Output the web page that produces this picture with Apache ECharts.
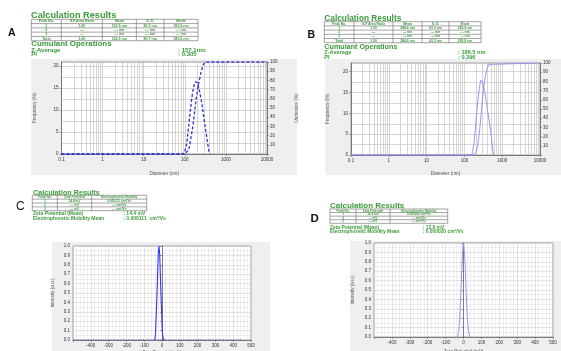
<!DOCTYPE html>
<html><head><meta charset="utf-8">
<script src="https://cdn.jsdelivr.net/npm/echarts@6/dist/echarts.min.js"></script>
<style>html,body{margin:0;padding:0;background:#fff;overflow:hidden}#c{width:561px;height:351px}</style>
</head><body><div id="c"></div>
<script>
// ---------- data ----------
const sizeA_diam = [0.1, 93, 100, 112, 123, 135, 148, 162, 178, 189, 204, 229, 260, 295, 331, 363, 398];
const sizeA_freq = [0, 0, 0.5, 2.5, 6, 9.5, 12.7, 15, 16.4, 16.7, 16.2, 14.2, 11.5, 7.8, 4.7, 2.2, 0];
const sizeA_cumDiam = [0.1, 102, 126, 157, 189, 214, 251, 282, 316, 10000];
const sizeA_cum = [0, 0, 5, 30, 60, 75, 90, 97, 100, 100];

const sizeB_diam = [0.1, 158, 178, 200, 224, 251, 275, 302, 351, 398, 478, 537, 589];
const sizeB_freq = [0, 0, 2.5, 7.5, 12.5, 16.5, 18, 17.5, 14.8, 11.5, 6.8, 3, 0];
const sizeB_cumDiam = [0.1, 178, 200, 224, 251, 282, 316, 355, 398, 447, 501, 10000];
const sizeB_cum = [0, 0, 3, 10, 25, 48, 70, 85, 94, 98.5, 100, 100];

const zetaC_mv = [-40, -36, -28, -21, -17, -13, -6, 2, 6, 12];
const zetaC_int = [0, 0.08, 0.5, 0.92, 1.0, 0.92, 0.5, 0.08, 0.02, 0];
const zetaC_baseMv = [-500, 450];
const zetaC_baseInt = [0, 0];

const zetaD_mv = [-35, -28, -21, -14, -7, 0, 7, 14, 21, 28, 35];
const zetaD_int = [0, 0.05, 0.2, 0.5, 0.82, 1.0, 0.85, 0.52, 0.22, 0.06, 0];

const logGridDiameters = [0.2,0.3,0.4,0.5,0.6,0.7,0.8,0.9,2,3,4,5,6,7,8,9,20,30,40,50,60,70,80,90,
  200,300,400,500,600,700,800,900,2000,3000,4000,5000,6000,7000,8000,9000];

const tableSizeHeader = ['Peak No.', 'S.P.Area Ratio', 'Mean', 'S. D.', 'Mode'];
const tableARows = [['1','1.00','192.9 nm','80.7 nm','181.6 nm'],['2','---','--- nm','--- nm','--- nm'],['3','---','--- nm','--- nm','--- nm'],['Total','1.00','192.9 nm','80.7 nm','181.6 nm']];
const tableBRows = [['1','1.00','284.6 nm','63.2 nm','265.9 nm'],['2','---','--- nm','--- nm','--- nm'],['3','---','--- nm','--- nm','--- nm'],['Total','1.00','284.6 nm','63.2 nm','265.9 nm']];
const tableZetaHeader = ['Peak No.', 'Zeta Potential', 'Electrophoretic Mobility'];
const tableCRows = [['1','14.4 mV','0.000111 cm²/Vs'],['2','--- mV','--- cm²/Vs'],['3','--- mV','--- cm²/Vs']];
const tableDRows = [['1','12.6 mV','0.000020 cm²/Vs'],['2','--- mV','--- cm²/Vs'],['3','--- mV','--- cm²/Vs']];
const zAvgA = ': 157.1nm', piA = ': 0.305';
const zAvgB = ': 186.5 nm', piB = ': 0.396';
const zetaMeanC = ': 14.4 mV', mobC = ': 0.000111  cm²/Vs';
const zetaMeanD = ': 12.6 mV', mobD = ': 0.000020 cm²/Vs';

// ---------- helpers ----------
const GREEN = '#3b9a3b';
const FONT = 'Liberation Sans, Arial, sans-serif';
const zip = (a, b) => a.map((v, i) => [v, b[i]]);

function txt(x, y, s, size, opt) {
  opt = opt || {};
  return {type:'text', x, y, z:10, silent:true, style:{text:s, fontSize:size, fontFamily:FONT,
    fontWeight: opt.weight || 'bold', fill: opt.fill || GREEN, align: opt.align || 'left', verticalAlign:'middle'}};
}
function table(cols, y0, y1, header, rows, size) {
  const els = [];
  const n = rows.length + 1, rh = (y1 - y0) / n;
  els.push({type:'rect', z:9, silent:true, shape:{x:cols[0], y:y0, width:cols[cols.length-1]-cols[0], height:y1-y0},
    style:{fill:'#fff', stroke:'#666', lineWidth:0.6}});
  for (let i = 1; i < cols.length - 1; i++)
    els.push({type:'line', z:9, silent:true, shape:{x1:cols[i], y1:y0, x2:cols[i], y2:y1}, style:{stroke:'#666', lineWidth:0.6}});
  for (let r = 1; r < n; r++)
    els.push({type:'line', z:9, silent:true, shape:{x1:cols[0], y1:y0+r*rh, x2:cols[cols.length-1], y2:y0+r*rh}, style:{stroke:'#666', lineWidth:0.6}});
  const all = [header].concat(rows);
  all.forEach((row, r) => row.forEach((c, j) => {
    els.push(txt((cols[j]+cols[j+1])/2, y0 + (r+0.5)*rh, c, size, {align:'center'}));
  }));
  return els;
}
function bg(x, y, w, h) {
  return {type:'rect', z:-10, silent:true, shape:{x, y, width:w, height:h}, style:{fill:'#efefef'}};
}
const axisLbl = {fontSize:4.5, color:'#333', fontFamily:FONT, margin:3};
const nameStyle = {fontSize:4.6, color:'#555', fontFamily:FONT};
function logX(gi, gap) {
  return {type:'log', gridIndex:gi, min:0.1, max:10000, logBase:10,
    axisLine:{show:true, onZero:false, lineStyle:{color:'#666', width:0.8}},
    axisTick:{show:true, length:2, lineStyle:{color:'#666', width:0.6}},
    axisLabel:Object.assign({formatter: v => String(+(+v).toPrecision(3))}, axisLbl),
    splitLine:{show:true, lineStyle:{color:'#c4c4c4', width:0.7}},
    name:'Diameter (nm)', nameLocation:'middle', nameGap:gap, nameTextStyle:nameStyle};
}
function freqY(gi, max, gap) {
  return {type:'value', gridIndex:gi, min:0, max:max, interval:5, position:'left',
    axisLine:{show:true, lineStyle:{color:'#666', width:0.8}},
    axisTick:{show:true, length:2, lineStyle:{color:'#666', width:0.6}},
    axisLabel:Object.assign({formatter: v => (v % 5 === 0 ? String(v) : ''), showMaxLabel:false}, axisLbl),
    splitLine:{show:true, lineStyle:{color:'#c4c4c4', width:0.7}},
    minorTick:{show:false, splitNumber:2},
    minorSplitLine:{show:true, lineStyle:{color:'#c4c4c4', width:0.7}},
    name:'Frequency (%)', nameLocation:'middle', nameGap:gap, nameRotate:90, nameTextStyle:nameStyle};
}
function underY(gi, name, gap) {
  return {type:'value', gridIndex:gi, min:0, max:100, interval:10, position:'right',
    axisLine:{show:true, lineStyle:{color:'#666', width:0.8}},
    axisTick:{show:true, length:2, lineStyle:{color:'#666', width:0.6}},
    axisLabel:Object.assign({formatter: v => (v === 0 ? '' : String(v))}, axisLbl),
    splitLine:{show:false},
    name:name, nameLocation:'middle', nameGap:gap, nameRotate:90, nameTextStyle:nameStyle};
}
function zetaX(gi, gap) {
  return {type:'value', gridIndex:gi, min:-500, max:500, interval:100,
    axisLine:{show:true, onZero:false, lineStyle:{color:'#666', width:0.8}},
    axisTick:{show:true, length:2, lineStyle:{color:'#666', width:0.6}},
    axisLabel:Object.assign({formatter: v => (v === -500 ? '' : String(v))}, axisLbl),
    splitLine:{show:true, lineStyle:{color:'#cfcfcf', width:0.6}},
    minorTick:{show:false, splitNumber:5},
    minorSplitLine:{show:true, lineStyle:{color:'#dedede', width:0.5}},
    name:'Zeta Potential (mV)', nameLocation:'middle', nameGap:gap, nameTextStyle:nameStyle};
}
function zetaY(gi, gap) {
  return {type:'value', gridIndex:gi, min:0, max:1, interval:0.1,
    axisLine:{show:true, lineStyle:{color:'#666', width:0.8}},
    axisTick:{show:true, length:2, lineStyle:{color:'#666', width:0.6}},
    axisLabel:Object.assign({formatter: v => (+v).toFixed(1)}, axisLbl),
    splitLine:{show:true, lineStyle:{color:'#cfcfcf', width:0.6}},
    minorTick:{show:false, splitNumber:2},
    minorSplitLine:{show:true, lineStyle:{color:'#dedede', width:0.5}},
    name:'Intensity (a.u.)', nameLocation:'middle', nameGap:gap, nameRotate:90, nameTextStyle:nameStyle};
}
const gridMark = {silent:true, symbol:'none', animation:false, label:{show:false},
  lineStyle:{color:'#c4c4c4', width:0.7, type:'solid'}, data: logGridDiameters.map(d => ({xAxis:d}))};

const gridStyle = {show:true, backgroundColor:'#fff', borderColor:'#888', borderWidth:0.8, containLabel:false, outerBoundsMode:'none'};

const graphics = [
  bg(31, 59, 266, 116), bg(325, 59, 236, 116), bg(52, 242, 218, 109), bg(350, 241, 211, 110),
  txt(8, 33, 'A', 10.5, {fill:'#111'}),
  txt(31, 15, 'Calculation Results', 9.2),
  ...table([31.3,61.3,102.3,136.3,164,198], 19.3, 40.7, tableSizeHeader, tableARows, 3.6),
  txt(31.3, 43.7, 'Cumulant Operations', 7.9),
  txt(31.3, 50.5, 'Z-Average', 6), txt(178, 50.5, zAvgA, 6),
  txt(31.3, 54.8, 'PI', 6), txt(178, 54.8, piA, 6),

  txt(307.5, 35.3, 'B', 10.5, {fill:'#111'}),
  txt(324.3, 18.6, 'Calculation Results', 8.3),
  ...table([324.3,354,393,422,449,481], 21.7, 42.7, tableSizeHeader, tableBRows, 3.4),
  txt(324.3, 46.8, 'Cumulant Operations', 7.2),
  txt(324.3, 52.6, 'Z-Average', 5.6), txt(458, 52.6, zAvgB, 5.6),
  txt(324.3, 57.6, 'PI', 5.6), txt(458, 57.6, piB, 5.6),

  txt(16, 207, 'C', 12, {fill:'#111', weight:'normal'}),
  txt(33, 193, 'Calculation Results', 7.2),
  ...table([32.3,57.3,91.7,146.7], 195.3, 210.7, tableZetaHeader, tableCRows, 3.2),
  txt(33, 213.6, 'Zeta Potential (Mean)', 5), txt(123.3, 213.6, zetaMeanC, 5),
  txt(33, 218.3, 'Electrophoretic Mobility Mean', 5), txt(123.3, 218.3, mobC, 5),

  txt(310.5, 219.2, 'D', 11.5, {fill:'#111'}),
  txt(330, 205.5, 'Calculation Results', 8),
  ...table([330,356,390,447.7], 209, 223.3, tableZetaHeader, tableDRows, 3.1),
  txt(330, 227.4, 'Zeta Potential (Mean)', 4.9), txt(422.7, 227.4, zetaMeanD, 4.9),
  txt(330, 232, 'Electrophoretic Mobility Mean', 4.9), txt(422.7, 232, mobD, 4.9)
];

const option = {
  animation:false,
  backgroundColor:'#fff',
  grid:[
    Object.assign({left:61.5, top:62, width:205.5, height:92}, gridStyle),
    Object.assign({left:351, top:63, width:189, height:92}, gridStyle),
    Object.assign({left:73, top:246, width:178, height:94}, gridStyle),
    Object.assign({left:374, top:243, width:179, height:94}, gridStyle)
  ],
  xAxis:[logX(0, 17), logX(1, 16.5), zetaX(2, 10), zetaX(3, 12.5)],
  yAxis:[freqY(0, 20.9, 24), underY(0, 'Undersize (%)', 27), freqY(1, 22.1, 20.5), underY(1, 'Undersize (%)', 27),
         zetaY(2, 18), zetaY(3, 18.5)],
  series:[
    {type:'line', xAxisIndex:0, yAxisIndex:0, data:zip(sizeA_diam, sizeA_freq), showSymbol:false, z:5,
      lineStyle:{color:'#2f2fd6', width:1.3, type:[3,2]}, markLine:gridMark},
    {type:'line', xAxisIndex:0, yAxisIndex:1, data:zip(sizeA_cumDiam, sizeA_cum), showSymbol:false, z:5,
      lineStyle:{color:'#2f2fd6', width:1.3, type:[3,2]}},
    {type:'line', xAxisIndex:1, yAxisIndex:2, data:zip(sizeB_diam, sizeB_freq), showSymbol:false, z:5,
      lineStyle:{color:'#8c8cee', width:0.9}, markLine:gridMark},
    {type:'line', xAxisIndex:1, yAxisIndex:3, data:zip(sizeB_cumDiam, sizeB_cum), showSymbol:false, z:5,
      lineStyle:{color:'#8c8cee', width:0.9}},
    {type:'line', xAxisIndex:2, yAxisIndex:4, data:zip(zetaC_baseMv, zetaC_baseInt), showSymbol:false, z:4,
      lineStyle:{color:'#3a3aee', width:0.9, type:[1,1.5]}},
    {type:'line', xAxisIndex:2, yAxisIndex:4, data:zip(zetaC_mv, zetaC_int), showSymbol:false, z:5,
      lineStyle:{color:'#3434f0', width:1.1}},
    {type:'line', xAxisIndex:3, yAxisIndex:5, data:zip(zetaD_mv, zetaD_int), showSymbol:false, z:5, smooth:0.3,
      lineStyle:{color:'#8a8af2', width:0.9}}
  ],
  graphic:{elements:graphics}
};
const chart = echarts.init(document.getElementById('c'), null, {renderer:'canvas'});
chart.setOption(option);
</script></body></html>
